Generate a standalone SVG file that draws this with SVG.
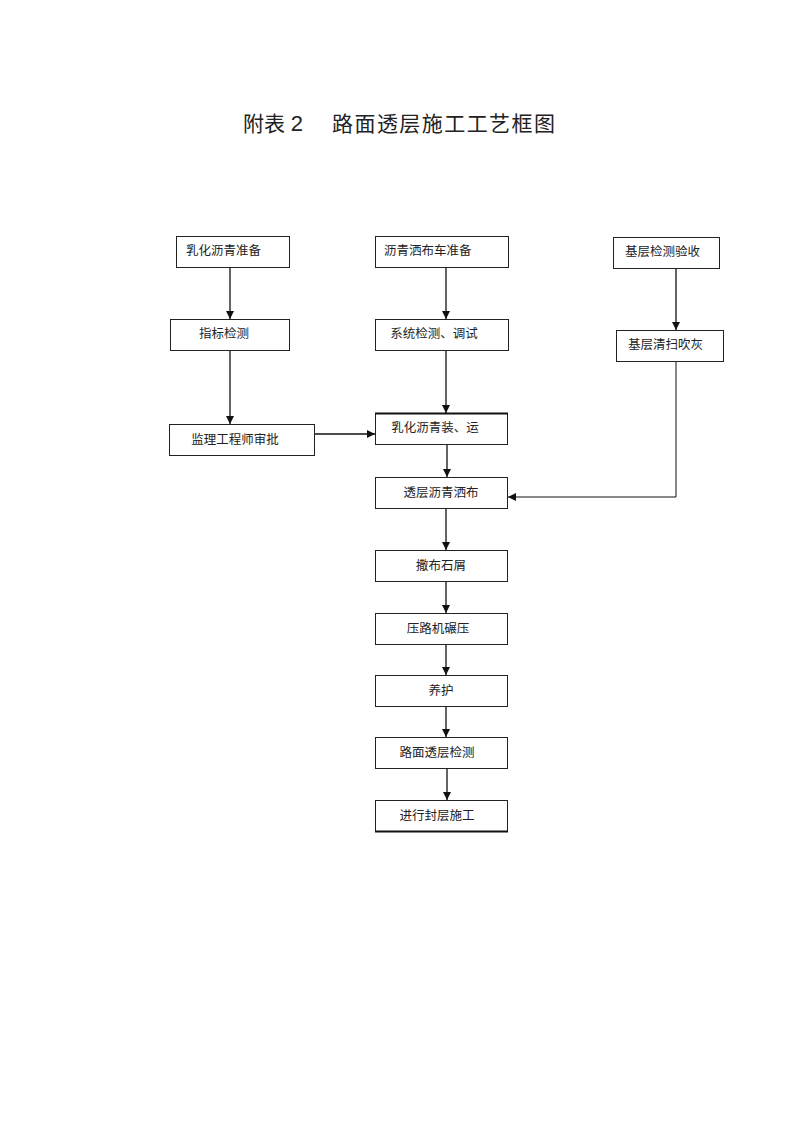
<svg xmlns="http://www.w3.org/2000/svg" width="800" height="1133" viewBox="0 0 800 1133">
<style>
.box{fill:#fff;stroke:#222;stroke-width:1}
.t{font-family:"Noto Sans CJK SC","Liberation Sans",sans-serif;font-size:12.5px;fill:#222}
.c{text-anchor:middle}
.ln{fill:none;stroke:#111;stroke-width:1.3}
.title{font-family:"Liberation Sans","Noto Sans CJK SC",sans-serif;font-size:21px;fill:#222}
</style>
<defs>
<marker id="ah" viewBox="0 0 10 10" refX="10" refY="5" markerWidth="8" markerHeight="8" markerUnits="userSpaceOnUse" orient="auto">
<path d="M0,0 L10,5 L0,10 Z" fill="#111"/>
</marker>
</defs>
<rect width="800" height="1133" fill="#fff"/>
<text class="title" x="243" y="131">附表 <tspan font-size="22">2</tspan></text>
<text class="title" x="332" y="131" textLength="223" lengthAdjust="spacing">路面透层施工工艺框图</text>
<g id="connectors">
<line class="ln" x1="230" y1="268" x2="230" y2="319" marker-end="url(#ah)"/>
<line class="ln" x1="446" y1="268" x2="446" y2="319" marker-end="url(#ah)"/>
<line class="ln" x1="676" y1="268" x2="676" y2="330" marker-end="url(#ah)"/>
<line class="ln" x1="230" y1="351" x2="230" y2="424" marker-end="url(#ah)"/>
<line class="ln" x1="446" y1="351" x2="446" y2="413" marker-end="url(#ah)"/>
<line class="ln" x1="314" y1="434" x2="375" y2="434" marker-end="url(#ah)"/>
<line class="ln" x1="447" y1="445" x2="447" y2="477" marker-end="url(#ah)"/>
<polyline class="ln" points="676,361 676,497 508,497" marker-end="url(#ah)" style="stroke-width:1"/>
<line class="ln" x1="446" y1="508" x2="446" y2="550" marker-end="url(#ah)"/>
<line class="ln" x1="446" y1="582" x2="446" y2="613" marker-end="url(#ah)"/>
<line class="ln" x1="446" y1="644" x2="446" y2="675" marker-end="url(#ah)"/>
<line class="ln" x1="446" y1="706" x2="446" y2="737" marker-end="url(#ah)"/>
<line class="ln" x1="447" y1="769" x2="447" y2="800" marker-end="url(#ah)"/>
</g>
<g id="n1"><rect class="box" x="176.5" y="236.5" width="113" height="31"/><text class="t" x="186" y="255">乳化沥青准备</text></g>
<g id="n2"><rect class="box" x="375.5" y="236.5" width="133" height="31"/><text class="t" x="384" y="255">沥青洒布车准备</text></g>
<g id="n3"><rect class="box" x="613.5" y="237.5" width="106" height="31"/><text class="t" x="625" y="256">基层检测验收</text></g>
<g id="n4"><rect class="box" x="170.5" y="319.5" width="119" height="31"/><text class="t c" x="224" y="338">指标检测</text></g>
<g id="n5"><rect class="box" x="375.5" y="319.5" width="133" height="31"/><text class="t c" x="434" y="338">系统检测、调试</text></g>
<g id="n6"><rect class="box" x="616.5" y="330.5" width="107" height="31"/><text class="t" x="628" y="349">基层清扫吹灰</text></g>
<g id="n7"><rect class="box" x="169.5" y="424.5" width="145" height="31"/><text class="t c" x="235" y="443.5">监理工程师审批</text></g>
<g id="n8"><rect class="box" x="375.5" y="413.5" width="132" height="31"/><line x1="375" y1="413.5" x2="508" y2="413.5" stroke="#111" stroke-width="2"/><text class="t c" x="435" y="432">乳化沥青装、运</text></g>
<g id="n9"><rect class="box" x="375.5" y="477.5" width="132" height="31"/><text class="t c" x="441" y="496.5">透层沥青洒布</text></g>
<g id="n10"><rect class="box" x="375.5" y="550.5" width="132" height="31"/><text class="t c" x="441" y="569.5">撒布石屑</text></g>
<g id="n11"><rect class="box" x="375.5" y="613.5" width="132" height="31"/><text class="t c" x="438" y="632.5">压路机碾压</text></g>
<g id="n12"><rect class="box" x="375.5" y="675.5" width="132" height="31"/><text class="t c" x="441" y="694.5">养护</text></g>
<g id="n13"><rect class="box" x="375.5" y="737.5" width="132" height="31"/><text class="t c" x="437" y="756.5">路面透层检测</text></g>
<g id="n14"><rect class="box" x="375.5" y="800.5" width="132" height="31"/><line x1="375" y1="831.5" x2="508" y2="831.5" stroke="#111" stroke-width="2"/><text class="t c" x="437" y="819.5">进行封层施工</text></g>
</svg>
